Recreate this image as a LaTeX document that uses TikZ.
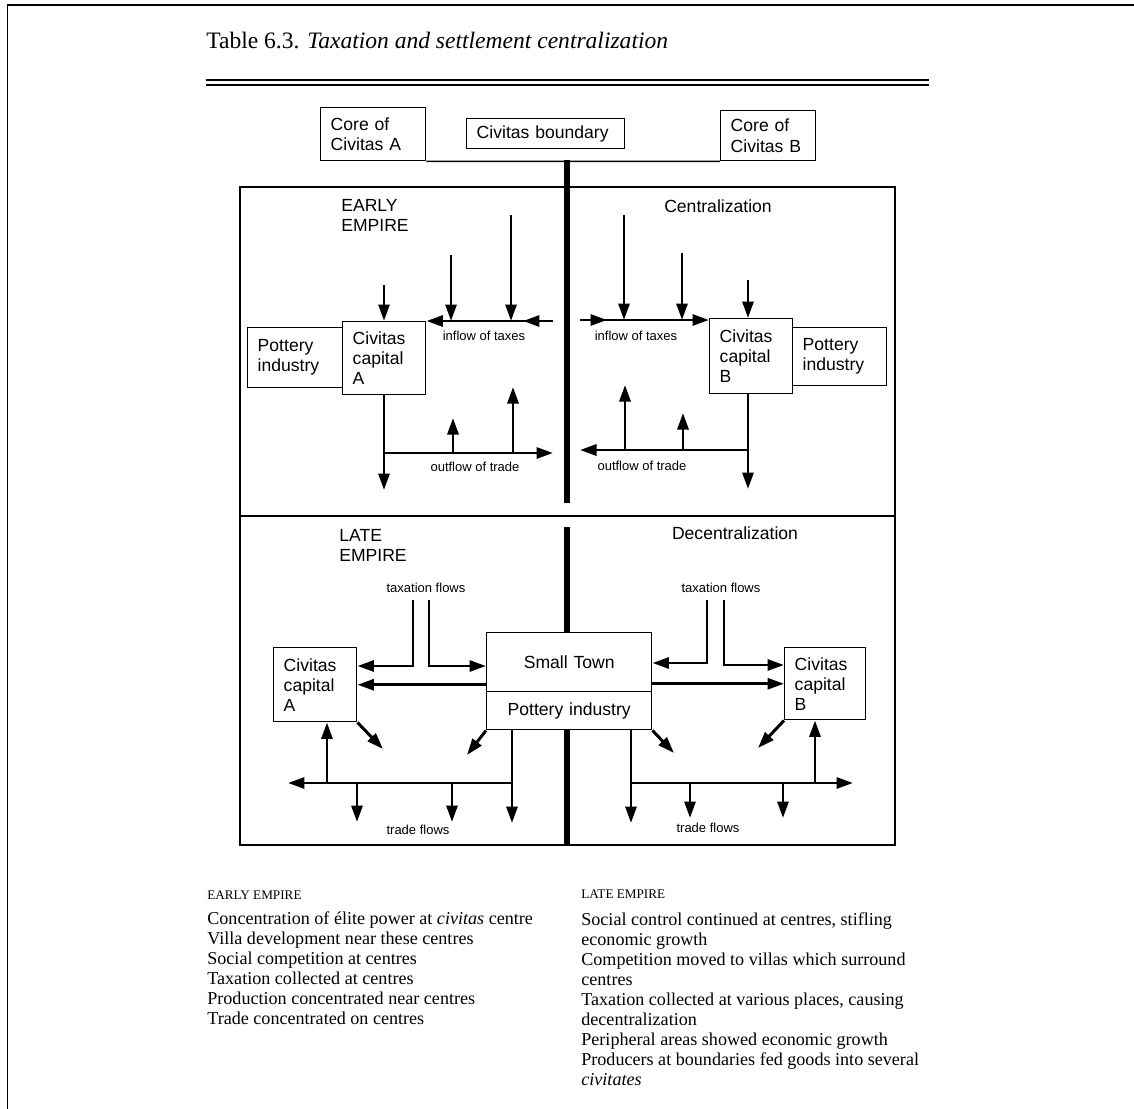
\documentclass[tikz,border=0pt]{standalone}
\usepackage{fontspec}
\setmainfont{Liberation Serif}
\newfontfamily\diagfont{Liberation Sans}
\usepackage{tikz}
\usetikzlibrary{positioning, arrows.meta, calc, fit}

\begin{document}
\begin{tikzpicture}[
    x=0.02cm, y=-0.02cm,
    box/.style={
        draw, line width=0.85pt, inner xsep=0.2cm, inner ysep=0pt,
        anchor=north west, align=left,
        font=\diagfont\fontsize{10}{11.4}\selectfont
    },
    panel/.style={draw, line width=0.7pt, inner sep=0pt},
    flow/.style={-{Triangle[length=3.3mm, width=2.2mm]}, line width=1.7pt},
    bound/.style={line width=3.4pt},
    flowlabel/.style={font=\diagfont\fontsize{7.4}{9}\selectfont, inner sep=0pt},
    heading/.style={font=\diagfont\fontsize{10}{11.4}\selectfont, align=left, inner sep=0pt},
    notehead/.style={font=\fontsize{7.5}{9}\selectfont, inner sep=0pt, anchor=base west},
    notes/.style={font=\fontsize{10.3}{11.4}\selectfont, align=left, inner sep=0pt, anchor=north west}
]
\useasboundingbox (0,0) rectangle (1134,1109);

% Page frame
\draw[line width=1pt] (7.5,1109) -- (7.5,5);
\draw[line width=0.6pt] (143,5) -- (996,5);
\draw[line width=1.4pt] (7,5) -- (143,5);
\draw[line width=1.4pt] (996,5) -- (1134,5);

% Title and rule
\node[anchor=base west, inner sep=0pt, font=\fontsize{13.4}{16}\selectfont] (title) at (206,48)
    {Table 6.3. \textit{Taxation and settlement centralization}};
\draw[line width=1pt] (206,80) -- (929,80);
\draw[line width=0.6pt] (206,85) -- (929,85);

% Top row: cores and boundary
\node[box, text width=1.7cm, minimum height=1.06cm] (coreA) at (320,107) {Core of\\Civitas A};
\node[box, text width=2.76cm, minimum height=0.6cm] (boundary) at (466,118) {Civitas boundary};
\node[box, text width=1.5cm, minimum height=1.0cm] (coreB) at (720,110) {Core of\\Civitas B};
\draw[line width=0.85pt] (coreA.south east) -- (coreB.south west);

% Panels
\node[panel, fit={(240,187)(895,516)}] (early) {};
\node[panel, fit={(240,516)(895,845)}] (late) {};

% Boundary line
\coordinate (bndTop) at (567,160);
\coordinate (bndMid) at (567,503);
\coordinate (bndLate) at (567,527);
\coordinate (bndEnd) at (567,845);

% ---------------- Early empire ----------------
\node[heading, anchor=west] (earlyhead) at (341,215) {EARLY\\EMPIRE};
\node[heading] (centr) at (718,206) {Centralization};

\node[box, text width=1.5cm, minimum height=1.2cm] (potA) at (247,327) {Pottery\\industry};
\node[box, text width=1.26cm, minimum height=1.46cm] (capA) at (342,321) {Civitas\\capital\\A};
\node[box, text width=1.26cm, minimum height=1.5cm] (capB) at (709,318) {Civitas\\capital\\B};
\node[box, text width=1.48cm, minimum height=1.16cm] (potB) at (792,327) {Pottery\\industry};

% inflow of taxes, A side
\coordinate (inA) at (553,321);
\coordinate (inAmid) at (523,321);
\coordinate (taxA1) at (451,255);
\coordinate (taxA2) at (511,215);
\coordinate (topA) at (384,285);
\draw[flow] (inA) -- (capA.east |- inA);
\draw[flow] (inA) -- (inAmid);
\draw[flow] (taxA1) -- (taxA1 |- inA);
\draw[flow] (taxA2) -- (taxA2 |- inA);
\draw[flow] (topA) -- (topA |- capA.north);
\node[flowlabel] (inlblA) at (484,336) {inflow of taxes};

% outflow of trade, A side
\coordinate (downA) at (384,490);
\coordinate (outA) at (553,453);
\coordinate (upA1) at (453,418);
\coordinate (upA2) at (513,387);
\draw[flow] (downA |- capA.south) -- (downA);
\draw[flow] (downA |- outA) -- (outA);
\draw[flow] (upA1 |- outA) -- (upA1);
\draw[flow] (upA2 |- outA) -- (upA2);
\node[flowlabel] (outlblA) at (475,467) {outflow of trade};

% inflow of taxes, B side
\coordinate (inB) at (580,320);
\coordinate (inBmid) at (607,320);
\coordinate (taxB1) at (624,215);
\coordinate (taxB2) at (682,253);
\coordinate (topB) at (748,280);
\draw[flow] (inB) -- (capB.west |- inB);
\draw[flow] (inB) -- (inBmid);
\draw[flow] (taxB1) -- (taxB1 |- inB);
\draw[flow] (taxB2) -- (taxB2 |- inB);
\draw[flow] (topB) -- (topB |- capB.north);
\node[flowlabel] (inlblB) at (636,336) {inflow of taxes};

% outflow of trade, B side
\coordinate (downB) at (748,489);
\coordinate (outB) at (580,450);
\coordinate (upB1) at (625,385);
\coordinate (upB2) at (683,413);
\draw[flow] (downB |- capB.south) -- (downB);
\draw[flow] (downB |- outB) -- (outB);
\draw[flow] (upB1 |- outB) -- (upB1);
\draw[flow] (upB2 |- outB) -- (upB2);
\node[flowlabel] (outlblB) at (642,466) {outflow of trade};

% ---------------- Late empire ----------------
\node[heading, anchor=west] (latehead) at (339,545) {LATE\\EMPIRE};
\node[heading] (decentr) at (735,533) {Decentralization};

\node[box, text width=1.26cm, minimum height=1.48cm] (lcapA) at (273,647) {Civitas\\capital\\A};
\node[box, text width=2.9cm, minimum height=1.18cm, align=center] (town) at (486,632) {Small Town};
\node[box, text width=2.9cm, minimum height=0.76cm, align=center] (potL) at (486,691) {Pottery industry};
\node[box, text width=1.22cm, minimum height=1.44cm] (lcapB) at (784,647) {Civitas\\capital\\B};

\draw[bound] (bndTop) -- (bndMid);
\draw[bound] (bndLate) -- (bndLate |- town.north);
\draw[bound] (bndEnd |- potL.south) -- (bndEnd);

% taxation flows
\node[flowlabel] (txlblA) at (426,588) {taxation flows};
\node[flowlabel] (txlblB) at (721,588) {taxation flows};
\coordinate (txA1) at (413,600);
\coordinate (txA2) at (429,600);
\coordinate (txrowA) at (0,666);
\coordinate (txB1) at (707,600);
\coordinate (txB2) at (724,600);
\coordinate (txrowB1) at (0,663);
\coordinate (txrowB2) at (0,665);
\draw[flow] (txA1) |- (lcapA.east |- txrowA);
\draw[flow] (txA2) |- (town.west |- txrowA);
\draw[flow] (txB1) |- (town.east |- txrowB1);
\draw[flow] (txB2) |- (lcapB.west |- txrowB2);
\draw[flow] (town.west |- lcapA.east) -- (lcapA.east);
\draw[flow] (town.east |- lcapB.west) -- (lcapB.west);

% diagonal outflows
\coordinate (dgA) at (383,749);
\coordinate (dgP1) at (467,755);
\coordinate (dgP2) at (674,753);
\coordinate (dgB) at (758,748);
\draw[flow] (lcapA.south east) -- (dgA);
\draw[flow] (potL.south west) -- (dgP1);
\draw[flow] (potL.south east) -- (dgP2);
\draw[flow] (lcapB.south west) -- (dgB);

% trade flows, A side
\coordinate (vL) at (512,823);
\coordinate (trL) at (288,783);
\coordinate (upL) at (327,783);
\coordinate (dnL1) at (357,822);
\coordinate (dnL2) at (452,822);
\draw[flow] (vL |- potL.south) -- (vL);
\draw[flow] (vL |- trL) -- (trL);
\draw[flow] (upL) -- (upL |- lcapA.south);
\draw[flow] (dnL1 |- trL) -- (dnL1);
\draw[flow] (dnL2 |- trL) -- (dnL2);
\node[flowlabel] (trlblA) at (418,830) {trade flows};

% trade flows, B side
\coordinate (vR) at (631,823);
\coordinate (trR) at (853,783);
\coordinate (upR) at (815,783);
\coordinate (dnR1) at (690,818);
\coordinate (dnR2) at (783,818);
\draw[flow] (vR |- potL.south) -- (vR);
\draw[flow] (vR |- trR) -- (trR);
\draw[flow] (upR) -- (upR |- lcapB.south);
\draw[flow] (dnR1 |- trR) -- (dnR1);
\draw[flow] (dnR2 |- trR) -- (dnR2);
\node[flowlabel] (trlblB) at (708,828) {trade flows};

% ---------------- Notes ----------------
\node[notehead] (earlynotehd) at (207,899) {EARLY EMPIRE};
\node[notes] (earlynotes) at (207,911) {Concentration of élite power at \textit{civitas} centre\\
    Villa development near these centres\\
    Social competition at centres\\
    Taxation collected at centres\\
    Production concentrated near centres\\
    Trade concentrated on centres};
\node[notehead] (latenotehd) at (581,898) {LATE EMPIRE};
\node[notes] (latenotes) at (581,912) {Social control continued at centres, stifling\\
    economic growth\\
    Competition moved to villas which surround\\
    centres\\
    Taxation collected at various places, causing\\
    decentralization\\
    Peripheral areas showed economic growth\\
    Producers at boundaries fed goods into several\\
    \textit{civitates}};

\end{tikzpicture}
\end{document}
